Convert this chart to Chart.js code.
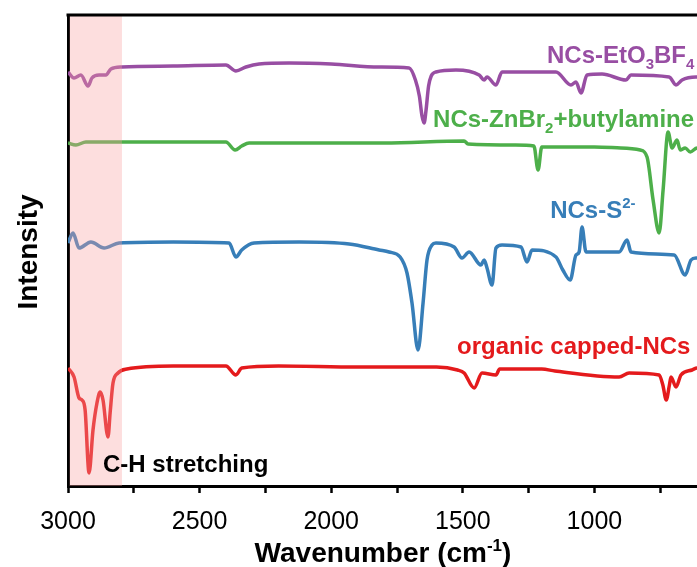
<!DOCTYPE html>
<html>
<head>
<meta charset="utf-8">
<script src="https://cdn.jsdelivr.net/npm/chart.js@4.4.1/dist/chart.umd.min.js"></script>
<style>
  html, body { margin: 0; padding: 0; background: #fff; overflow: hidden; }
  #wrap { width: 740px; height: 567px; }
</style>
</head>
<body>
<div id="wrap"><canvas id="ftirChart" width="740" height="567"></canvas></div>
<script>
// FTIR spectra, offset vertically (a.u.), wavenumber in cm^-1
const wnEtO = [3000, 2977, 2951, 2924, 2909, 2882, 2856, 2837, 2795, 2600, 2400, 2362, 2324, 2274, 2160, 2000, 1818, 1704, 1680, 1665, 1655, 1647, 1640, 1630, 1620, 1602, 1526, 1438, 1419, 1408, 1374, 1351, 1146, 1089, 1070, 1051, 1028, 971, 880, 861, 716, 690, 667, 614, 560];
const intEtO = [414, 408, 411, 400, 408, 411, 411, 417, 419, 420, 421, 415, 419, 422, 423, 422, 419, 418, 406, 390, 370, 363, 375, 400, 410, 414, 416, 411, 406, 409, 401, 414, 414, 401, 404, 393, 411, 412, 406, 411, 409, 401, 406, 409, 409];

const wnZnBr = [3000, 2970, 2932, 2800, 2600, 2400, 2365, 2340, 2312, 2000, 1800, 1495, 1480, 1300, 1230, 1214, 1200, 1000, 900, 826, 800, 777, 754, 739, 720, 705, 686, 674, 655, 636, 610, 560];
const intZnBr = [343, 341, 344, 344, 344, 344, 336, 340, 343, 343, 343, 345, 342, 341, 340, 316, 339, 339, 338, 336, 329, 286, 253, 296, 354, 338, 346, 336, 338, 334, 338, 338];

const wnS = [3000, 2981, 2958, 2913, 2863, 2806, 2600, 2388, 2362, 2340, 2293, 2122, 1932, 1818, 1780, 1738, 1712, 1693, 1670, 1651, 1636, 1617, 1602, 1533, 1503, 1476, 1431, 1419, 1408, 1389, 1374, 1351, 1279, 1256, 1237, 1146, 1120, 1092, 1070, 1058, 1047, 1032, 906, 876, 861, 697, 655, 633, 614, 560];
const intS = [243, 253, 238, 244, 238, 243, 244, 243, 229, 236, 243, 244, 242, 236, 234, 229, 213, 183, 136, 183, 226, 241, 243, 239, 228, 234, 221, 226, 218, 201, 238, 241, 239, 224, 236, 229, 216, 206, 231, 234, 259, 234, 234, 246, 234, 231, 211, 226, 228, 228];

const wnOrg = [3000, 2977, 2958, 2947, 2935, 2920, 2905, 2890, 2878, 2867, 2848, 2840, 2829, 2810, 2776, 2600, 2400, 2362, 2340, 2200, 1900, 1600, 1520, 1495, 1457, 1427, 1374, 1360, 1200, 1150, 906, 868, 754, 740, 727, 715, 709, 690, 671, 629, 610, 560];
const intOrg = [118, 109, 88, 86, 76, 13, 56, 83, 94, 86, 49, 73, 103, 113, 117, 120, 120, 111, 118, 120, 119, 119, 116, 113, 98, 113, 111, 117, 117, 115, 109, 113, 111, 101, 86, 101, 109, 99, 111, 116, 118, 118];

const seriesNames = ['NCs-EtO3BF4', 'NCs-ZnBr2+butylamine', 'NCs-S2-', 'organic capped-NCs'];
const seriesColors = ['#984EA3', '#4DAF4A', '#377EB8', '#E41A1C'];
const xTickLabels = [3000, 2500, 2000, 1500, 1000];

// shaded C-H stretching region
const bandRange = [3000, 2795];

// curve labels: [wavenumber of left edge, intensity of baseline, pieces, colour]
const curveLabels = [
  { wn: 1180, y: 423, color: '#984EA3', parts: [{ t: 'NCs-EtO' }, { t: '3', sub: true }, { t: 'BF' }, { t: '4', sub: true }] },
  { wn: 1613, y: 359, color: '#4DAF4A', parts: [{ t: 'NCs-ZnBr' }, { t: '2', sub: true }, { t: '+butylamine' }] },
  { wn: 1168, y: 268, color: '#377EB8', parts: [{ t: 'NCs-S' }, { t: '2-', sup: true }] },
  { wn: 1522, y: 132, color: '#E41A1C', parts: [{ t: 'organic capped-NCs' }] },
  { wn: 2867, y: 14, color: '#000000', parts: [{ t: 'C-H stretching' }] }
];

const toPoints = (xs, ys) => xs.map((x, i) => ({ x: x, y: ys[i] }));

const BASE = "'Liberation Sans', Arial, Helvetica, sans-serif";

function drawRich(ctx, x, y, parts, size) {
  let cx = x;
  parts.forEach(p => {
    let fs = size, dy = 0;
    if (p.sub) { fs = Math.round(size * 0.62); dy = size * 0.25; }
    if (p.sup) { fs = Math.round(size * 0.62); dy = -size * 0.4; }
    ctx.font = 'bold ' + fs + 'px ' + BASE;
    ctx.fillText(p.t, cx, y + dy);
    cx += ctx.measureText(p.t).width;
  });
}

const decorations = {
  id: 'decorations',
  afterDatasetsDraw(chart) {
    const { ctx, chartArea, scales } = chart;
    const xs = scales.x, ys = scales.y;
    ctx.save();

    // pink band sits over the traces
    const bx0 = xs.getPixelForValue(bandRange[0]);
    const bx1 = xs.getPixelForValue(bandRange[1]);
    ctx.fillStyle = 'rgba(250, 160, 160, 0.35)';
    ctx.fillRect(bx0 + 1.5, chartArea.top, bx1 - bx0 - 1.5, chartArea.bottom - chartArea.top);

    // top frame line
    ctx.strokeStyle = '#000';
    ctx.lineWidth = 3;
    ctx.beginPath();
    ctx.moveTo(chartArea.left - 1.5, chartArea.top);
    ctx.lineTo(chartArea.right, chartArea.top);
    ctx.stroke();

    // curve labels
    ctx.textBaseline = 'alphabetic';
    ctx.textAlign = 'left';
    curveLabels.forEach(l => {
      ctx.fillStyle = l.color;
      drawRich(ctx, xs.getPixelForValue(l.wn), ys.getPixelForValue(l.y), l.parts, 24);
    });

    // axis titles
    ctx.fillStyle = '#000';
    ctx.font = 'bold 28px ' + BASE;
    ctx.save();
    ctx.translate(37, 252);
    ctx.rotate(-Math.PI / 2);
    ctx.textAlign = 'center';
    ctx.fillText('Intensity', 0, 0);
    ctx.restore();

    const main = 'Wavenumber (cm', sup = '-1', close = ')';
    ctx.font = 'bold 28px ' + BASE;
    const w1 = ctx.measureText(main).width, w3 = ctx.measureText(close).width;
    ctx.font = 'bold 17px ' + BASE;
    const w2 = ctx.measureText(sup).width;
    let tx = 383 - (w1 + w2 + w3) / 2;
    const ty = 562;
    ctx.textAlign = 'left';
    ctx.font = 'bold 28px ' + BASE;
    ctx.fillText(main, tx, ty);
    ctx.font = 'bold 17px ' + BASE;
    ctx.fillText(sup, tx + w1, ty - 11);
    ctx.font = 'bold 28px ' + BASE;
    ctx.fillText(close, tx + w1 + w2, ty);
    ctx.restore();
  }
};

const ctx = document.getElementById('ftirChart').getContext('2d');

new Chart(ctx, {
  type: 'line',
  data: {
    datasets: [
      { label: seriesNames[0], data: toPoints(wnEtO, intEtO), borderColor: seriesColors[0] },
      { label: seriesNames[1], data: toPoints(wnZnBr, intZnBr), borderColor: seriesColors[1] },
      { label: seriesNames[2], data: toPoints(wnS, intS), borderColor: seriesColors[2] },
      { label: seriesNames[3], data: toPoints(wnOrg, intOrg), borderColor: seriesColors[3] }
    ]
  },
  options: {
    responsive: false,
    animation: false,
    devicePixelRatio: 1,
    datasets: {
      line: { borderWidth: 3.5, pointRadius: 0, fill: false, cubicInterpolationMode: 'monotone' }
    },
    layout: { padding: { top: 15, right: 14, left: 0, bottom: 0 } },
    plugins: { legend: { display: false }, tooltip: { enabled: false } },
    scales: {
      x: {
        type: 'linear',
        reverse: true,
        min: 500,
        max: 3000,
        afterFit: s => { s.height = 81; },
        afterBuildTicks: s => {
          s.ticks = [];
          for (let v = 3000; v >= 500; v -= 250) s.ticks.push({ value: v });
        },
        ticks: {
          autoSkip: false,
          maxRotation: 0,
          padding: 14,
          color: '#000',
          font: { family: BASE, size: 25 },
          callback: v => (xTickLabels.includes(v) ? String(v) : '')
        },
        grid: { display: true, drawOnChartArea: false, drawTicks: true, tickLength: 7, tickWidth: 2.5, tickColor: '#000' },
        border: { display: true, color: '#000', width: 3 }
      },
      y: {
        min: 0,
        max: 471,
        afterFit: s => { s.width = 68; },
        ticks: { display: false },
        grid: { display: false },
        border: { display: true, color: '#000', width: 3 }
      }
    }
  },
  plugins: [decorations]
});
</script>
</body>
</html>
